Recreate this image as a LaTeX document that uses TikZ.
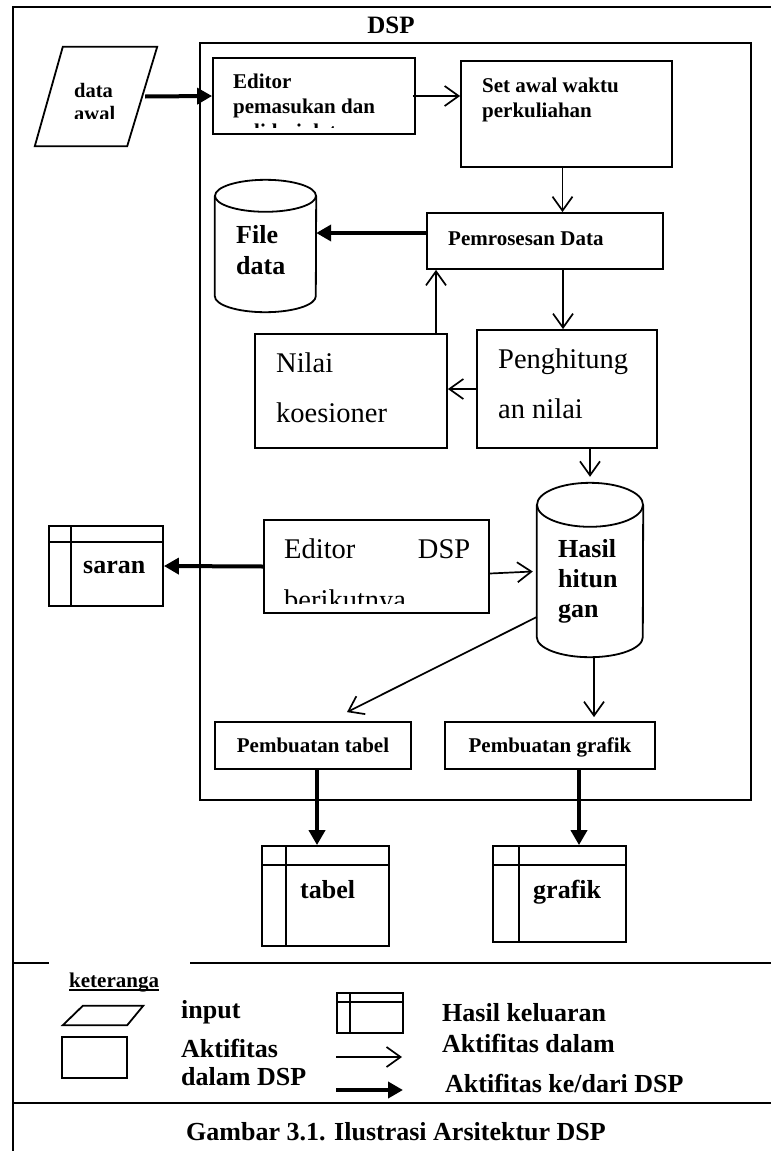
\documentclass[tikz,border=0pt]{standalone}
\usepackage{fontspec}
\setmainfont{Liberation Serif}
\usetikzlibrary{arrows.meta, positioning}

\newcommand{\smallbold}{\fontsize{21}{25}\selectfont\bfseries}
\newcommand{\bigbold}{\fontsize{26}{30}\selectfont\bfseries}
\newcommand{\bigplain}{\fontsize{28.5}{50}\selectfont}

\begin{document}
\begin{tikzpicture}[x=1pt, y=-1pt,
		box/.style={draw, line width=1.8pt, rectangle, inner sep=0pt},
		frame/.style={rectangle, inner sep=0pt},
		outline/.style={line width=1.8pt},
		flow/.style={line width=1.7pt, -{Straight Barb[length=14pt, width=20pt, line width=1.7pt]}},
		bold flow/.style={line width=4pt, -{Triangle[length=15pt, width=16pt]}},
		docicon/.style 2 args={box, path picture={
			\draw[line width=1.8pt] ([yshift=-#1]path picture bounding box.north west) -- ([yshift=-#1]path picture bounding box.north east);
			\draw[line width=1.8pt] ([xshift=#2]path picture bounding box.north west) -- ([xshift=#2]path picture bounding box.south west);}},
		txt/.style={anchor=base west, align=left, inner sep=0pt},
	]
	\useasboundingbox (0,0) rectangle (771,1151);

	% outer frame and legend dividers
	\draw[outline] (13,1151) -- (13,7) -- (771,7);
	\draw[outline] (13,963) -- (49,963) (190,963) -- (771,963);
	\draw[outline] (13,1103) -- (771,1103);

	% DSP block
	\node[box, minimum width=551pt, minimum height=757pt] (dsp) at (475.5,421.5) {};
	\node[anchor=base, inner sep=0pt, font=\fontsize{25}{30}\selectfont\bfseries] (dsptitle) at (391,33) {DSP};

	% input (parallelogram)
	\node[frame, minimum width=122pt, minimum height=99pt] (dataawal) at (96,96.5) {};
	\draw[outline] ([xshift=28pt]dataawal.north west) -- (dataawal.north east)
		-- ([xshift=-30pt]dataawal.south east) -- (dataawal.south west) -- cycle;
	\begin{scope}
		\clip (20,40) rectangle (180,118);
		\node[txt, font=\fontsize{20.5}{23}\selectfont\bfseries] (dataawaltext) at (74,120) {data\\awal};
	\end{scope}

	% activities inside DSP
	\node[box, minimum width=202pt, minimum height=76pt] (editor) at (314,96) {};
	\begin{scope}
		\clip (editor.north west) rectangle ([yshift=7pt]editor.south east);
		\node[txt, font=\smallbold] (editortext) at (233,138) {Editor\\pemasukan dan\\validasi data};
	\end{scope}

	\node[box, minimum width=211pt, minimum height=106pt] (setawal) at (566.5,114) {};
	\node[txt, font=\smallbold] (setawaltext) at (482,117) {Set awal waktu\\perkuliahan};

	\node[box, minimum width=236pt, minimum height=56pt] (proses) at (545,241) {};
	\node[txt, font=\smallbold] (prosestext) at (448,245) {Pemrosesan Data};

	% file data drum
	\node[frame, minimum width=101pt, minimum height=132pt] (filedata) at (265.5,246) {};
	\draw[outline] ([yshift=-16pt]filedata.north west) -- ([yshift=16pt]filedata.south west)
		arc[start angle=180, end angle=360, x radius=50.5pt, y radius=16pt]
		-- ([yshift=-16pt]filedata.north east);
	\draw[outline] ([yshift=-16pt]filedata.north) ellipse[x radius=50.5pt, y radius=16pt];
	\node[txt, font=\fontsize{26}{31}\selectfont\bfseries] (filedatatext) at (236,274) {File\\data};

	\node[box, minimum width=180pt, minimum height=118pt] (hitung) at (567,389) {};
	\node[txt, font=\bigplain] (hitungtext) at (498,418) {Penghitung\\an nilai};

	\node[box, minimum width=192pt, minimum height=114pt] (nilai) at (351,391) {};
	\node[txt, font=\bigplain] (nilaitext) at (276,422) {Nilai\\koesioner};

	% hasil hitungan drum
	\node[frame, minimum width=106pt, minimum height=174pt] (hasil) at (590,570) {};
	\draw[outline] ([yshift=-22pt]hasil.north west) -- ([yshift=20pt]hasil.south west)
		arc[start angle=180, end angle=360, x radius=53pt, y radius=20pt]
		-- ([yshift=-22pt]hasil.north east);
	\draw[outline] ([yshift=-22pt]hasil.north) ellipse[x radius=53pt, y radius=22pt];
	\node[txt, font=\fontsize{26}{30}\selectfont\bfseries] (hasiltext) at (558,617) {Hasil\\hitun\\gan};

	\node[box, minimum width=225pt, minimum height=93pt] (editdsp) at (376.5,566.5) {};
	\begin{scope}
		\clip (editdsp.north west) rectangle ([yshift=10pt]editdsp.south east);
		\node[txt, font=\fontsize{28.5}{51}\selectfont] (editdsptext) at (284,609) {\hbox to 186pt{Editor\hfill DSP}\\berikutnya};
	\end{scope}

	\node[box, minimum width=196pt, minimum height=47pt, font=\smallbold, text height=14pt, text depth=0pt] (buattabel) at (313,745.5) {Pembuatan tabel};
	\node[box, minimum width=210pt, minimum height=47pt, font=\smallbold, text height=14pt, text depth=0pt] (buatgrafik) at (550,745.5) {Pembuatan grafik};

	% outputs
	\node[docicon={16pt}{22pt}, minimum width=114pt, minimum height=80pt] (saran) at (106,566) {};
	\node[txt, font=\bigbold] (sarantext) at (83,573) {saran};
	\node[docicon={19pt}{24pt}, minimum width=127pt, minimum height=100pt] (tabel) at (325.5,896) {};
	\node[txt, font=\bigbold] (tabeltext) at (300,898) {tabel};
	\node[docicon={19pt}{26pt}, minimum width=133pt, minimum height=96pt] (grafik) at (559.5,894) {};
	\node[txt, font=\bigbold] (grafiktext) at (533,898) {grafik};

	% connectors
	\draw[bold flow] ([xshift=-12pt]dataawal.east) -- (editor.west);
	\draw[flow] ([xshift=-3pt]editor.east) -- (editor.east -| setawal.west);
	\draw[flow] ([xshift=-4pt]setawal.south) -- ([xshift=-4pt]setawal.south |- proses.north);
	\draw[bold flow] ([yshift=8pt]proses.west) -- ([yshift=8pt]proses.west -| filedata.east);
	\draw[flow] ([xshift=-4pt]hitung.north |- proses.south) -- ([xshift=-4pt]hitung.north);
	\draw[flow] (hitung.west) -- (hitung.west -| nilai.east);
	\draw[flow] ([xshift=85pt]nilai.north) -- ([xshift=85pt]nilai.north |- proses.south);
	\draw[flow] ([xshift=23pt]hitung.south) -- ([xshift=23pt, yshift=6pt]hitung.south |- hasil.north);
	\draw[flow] ([yshift=-7pt]editdsp.east) -- ([xshift=-4pt, yshift=-5pt]editdsp.east -| hasil.west);
	\draw[bold flow] (editdsp.west) -- (saran.east);
	\draw[flow] ([yshift=-47pt]hasil.west) -- ([xshift=34pt, yshift=9pt]buattabel.north);
	\draw[flow] ([xshift=4pt]hasil.south) -- ([xshift=4pt, yshift=4pt]hasil.south |- buatgrafik.north);
	\draw[bold flow] ([xshift=4pt]buattabel.south) -- ([xshift=4pt]buattabel.south |- tabel.north);
	\draw[bold flow] ([xshift=29pt]buatgrafik.south) -- ([xshift=29pt]buatgrafik.south |- grafik.north);

	% legend
	\node[txt, font=\smallbold] (keterangan) at (69,987) {keteranga};
	\draw[line width=1.5pt] ([yshift=-3pt]keterangan.base west) -- ([yshift=-3pt]keterangan.base east);
	\node[frame, minimum width=80pt, minimum height=19pt] (keyinput) at (103,1015.5) {};
	\draw[outline] ([xshift=20pt]keyinput.north west) -- (keyinput.north east)
		-- ([xshift=-16pt]keyinput.south east) -- (keyinput.south west) -- cycle;
	\node[box, minimum width=65pt, minimum height=41pt] (keybox) at (94.5,1057.5) {};
	\node[docicon={9pt}{13pt}, minimum width=66pt, minimum height=40pt] (keydoc) at (370,1013) {};
	\coordinate (keythinA) at (336,1057);
	\coordinate (keythinB) at (402,1057);
	\coordinate (keythickA) at (336,1090);
	\coordinate (keythickB) at (403,1090);
	\draw[flow] (keythinA) -- (keythinB);
	\draw[bold flow] (keythickA) -- (keythickB);
	\node[txt, font=\bigbold] (keyinputtext) at (181,1018) {input};
	\node[txt, font=\fontsize{26}{28}\selectfont\bfseries] (keyboxtext) at (181,1085) {Aktifitas\\dalam DSP};
	\node[txt, font=\bigbold] (keydoctext) at (442,1021) {Hasil keluaran};
	\node[txt, font=\bigbold] (keythintext) at (442,1052) {Aktifitas dalam};
	\node[txt, font=\bigbold] (keythicktext) at (445,1092) {Aktifitas ke/dari DSP};

	% caption
	\node[anchor=base, inner sep=0pt, font=\bigbold] (caption) at (396,1140) {Gambar 3.1. Ilustrasi Arsitektur DSP};
\end{tikzpicture}
\end{document}
